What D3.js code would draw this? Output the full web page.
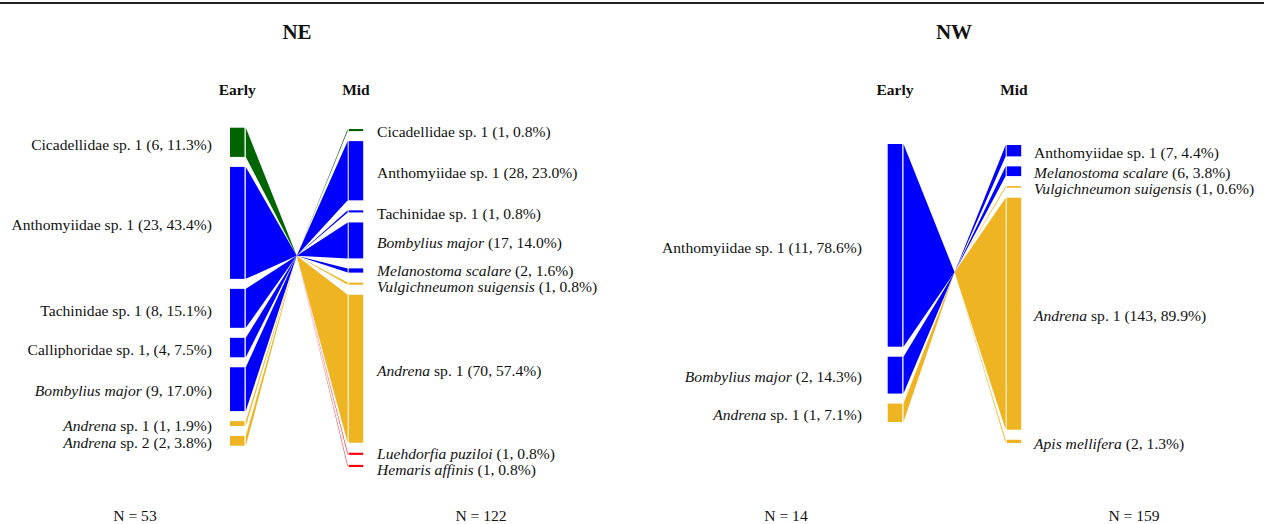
<!DOCTYPE html>
<html>
<head>
<meta charset="utf-8">
<script src="https://cdn.jsdelivr.net/npm/d3@7"></script>
<style>
  body { margin: 0; background: #fff; }
  text { font-family: "Liberation Serif", "Times New Roman", serif; fill: #111; }
</style>
</head>
<body>
<div id="chart"></div>
<script>
// Visitor taxa per site and season (counts and percent of season total)
const neEarlyNames = ["Cicadellidae sp. 1", "Anthomyiidae sp. 1", "Tachinidae sp. 1", "Calliphoridae sp. 1,", "Bombylius major", "Andrena sp. 1", "Andrena sp. 2"];
const neEarlyCounts = [6, 23, 8, 4, 9, 1, 2];
const neEarlyPct = ["11.3", "43.4", "15.1", "7.5", "17.0", "1.9", "3.8"];
const neEarlyOrder = ["Hemiptera", "Diptera", "Diptera", "Diptera", "Diptera", "Hymenoptera", "Hymenoptera"];

const neMidNames = ["Cicadellidae sp. 1", "Anthomyiidae sp. 1", "Tachinidae sp. 1", "Bombylius major", "Melanostoma scalare", "Vulgichneumon suigensis", "Andrena sp. 1", "Luehdorfia puziloi", "Hemaris affinis"];
const neMidCounts = [1, 28, 1, 17, 2, 1, 70, 1, 1];
const neMidPct = ["0.8", "23.0", "0.8", "14.0", "1.6", "0.8", "57.4", "0.8", "0.8"];
const neMidOrder = ["Hemiptera", "Diptera", "Diptera", "Diptera", "Diptera", "Hymenoptera", "Hymenoptera", "Lepidoptera", "Lepidoptera"];

const nwEarlyNames = ["Anthomyiidae sp. 1", "Bombylius major", "Andrena sp. 1"];
const nwEarlyCounts = [11, 2, 1];
const nwEarlyPct = ["78.6", "14.3", "7.1"];
const nwEarlyOrder = ["Diptera", "Diptera", "Hymenoptera"];

const nwMidNames = ["Anthomyiidae sp. 1", "Melanostoma scalare", "Vulgichneumon suigensis", "Andrena sp. 1", "Apis mellifera"];
const nwMidCounts = [7, 6, 1, 143, 2];
const nwMidPct = ["4.4", "3.8", "0.6", "89.9", "1.3"];
const nwMidOrder = ["Diptera", "Diptera", "Hymenoptera", "Hymenoptera", "Hymenoptera"];

const seasons = ["Early", "Mid"];
const orders = ["Hemiptera", "Diptera", "Hymenoptera", "Lepidoptera"];
const italicTerms = ["Bombylius major", "Andrena", "Melanostoma scalare", "Vulgichneumon suigensis", "Luehdorfia puziloi", "Hemaris affinis", "Apis mellifera"];

const W = 1264, H = 524;
const barW = 14.5, gap = 10, colH = 258;

const color = d3.scaleOrdinal()
    .domain(orders)
    .range(["#006400", "#0000ff", "#eeb422", "#ff0000"]);

const makeCol = (names, counts, pct, ord) =>
    names.map((n, i) => ({ name: n, count: counts[i], pct: pct[i], order: ord[i] }));

const panels = [
    { title: "NE", left: makeCol(neEarlyNames, neEarlyCounts, neEarlyPct, neEarlyOrder),
      right: makeCol(neMidNames, neMidCounts, neMidPct, neMidOrder),
      lx: 230, rx: 348.7, lTop: 127.7, rTop: 129, cy: 255.7,
      lLabel: 212, rLabel: 377, tx: 297, nl: 135, nr: 481 },
    { title: "NW", left: makeCol(nwEarlyNames, nwEarlyCounts, nwEarlyPct, nwEarlyOrder),
      right: makeCol(nwMidNames, nwMidCounts, nwMidPct, nwMidOrder),
      lx: 887.7, rx: 1006.7, lTop: 144, rTop: 145, cy: 272.3,
      lLabel: 862, rLabel: 1034, tx: 954, nl: 786, nr: 1134 }
];

const svg = d3.select("#chart").append("svg")
    .attr("width", W)
    .attr("height", H);

// rule across the top
svg.append("line")
    .attr("x1", 0).attr("x2", W)
    .attr("y1", 3).attr("y2", 3)
    .attr("stroke", "#222")
    .attr("stroke-width", 2);

// stack bars of one column
function stack(col, top) {
    const total = d3.sum(col, d => d.count);
    const y = d3.scaleLinear().domain([0, total]).range([0, colH]);
    let cum = 0;
    col.forEach((d, i) => {
        d.y0 = top + y(cum) + i * gap;
        cum += d.count;
        d.y1 = top + y(cum) + i * gap;
    });
    return total;
}

// push overlapping labels apart
function spread(col, minSp) {
    col.forEach(d => d.ly = (d.y0 + d.y1) / 2 + 7.2);
    for (let k = 0; k < 60; k++) {
        for (let i = 1; i < col.length; i++) {
            const over = minSp - (col[i].ly - col[i - 1].ly);
            if (over > 0) {
                col[i - 1].ly -= over / 2;
                col[i].ly += over / 2;
            }
        }
    }
}

function addLabel(g, d, x, anchor) {
    const t = g.append("text")
        .attr("x", x)
        .attr("y", d.ly)
        .attr("text-anchor", anchor)
        .style("font-size", "15.6px");
    const term = italicTerms.find(s => d.name.startsWith(s));
    if (term) {
        t.append("tspan").style("font-style", "italic").text(term);
        t.append("tspan").text(d.name.slice(term.length) + ` (${d.count}, ${d.pct}%)`);
    } else {
        t.append("tspan").text(`${d.name} (${d.count}, ${d.pct}%)`);
    }
}

panels.forEach(p => {
    const g = svg.append("g");
    const nLeft = stack(p.left, p.lTop);
    const nRight = stack(p.right, p.rTop);
    const lEdge = p.lx + barW + 1.3;
    const rEdge = p.rx - 1;
    const cx = (lEdge + rEdge) / 2;

    g.append("text")
        .attr("x", p.tx).attr("y", 39)
        .attr("text-anchor", "middle")
        .style("font-size", "21px")
        .style("font-weight", "bold")
        .text(p.title);

    [p.lx, p.rx].forEach((x, i) => {
        g.append("text")
            .attr("x", x + barW / 2).attr("y", 95)
            .attr("text-anchor", "middle")
            .style("font-size", "15.5px")
            .style("font-weight", "bold")
            .text(seasons[i]);
    });

    // wedges converging to the centre point
    g.selectAll(".wl").data(p.left).enter().append("polygon")
        .attr("points", d => `${lEdge},${d.y0} ${lEdge},${d.y1} ${cx},${p.cy}`)
        .attr("fill", d => color(d.order));
    g.selectAll(".wr").data(p.right).enter().append("polygon")
        .attr("points", d => `${rEdge},${d.y0} ${rEdge},${d.y1} ${cx},${p.cy}`)
        .attr("fill", d => color(d.order));

    g.selectAll(".bl").data(p.left).enter().append("rect")
        .attr("x", p.lx).attr("y", d => d.y0)
        .attr("width", barW).attr("height", d => d.y1 - d.y0)
        .attr("fill", d => color(d.order));
    g.selectAll(".br").data(p.right).enter().append("rect")
        .attr("x", p.rx).attr("y", d => d.y0)
        .attr("width", barW).attr("height", d => d.y1 - d.y0)
        .attr("fill", d => color(d.order));

    spread(p.left, 16);
    spread(p.right, 16);
    p.left.forEach(d => addLabel(g, d, p.lLabel, "end"));
    p.right.forEach(d => addLabel(g, d, p.rLabel, "start"));

    [[p.nl, nLeft], [p.nr, nRight]].forEach(([x, n]) => {
        g.append("text")
            .attr("x", x).attr("y", 521)
            .attr("text-anchor", "middle")
            .style("font-size", "15.6px")
            .text(`N = ${n}`);
    });
});
</script>
</body>
</html>
